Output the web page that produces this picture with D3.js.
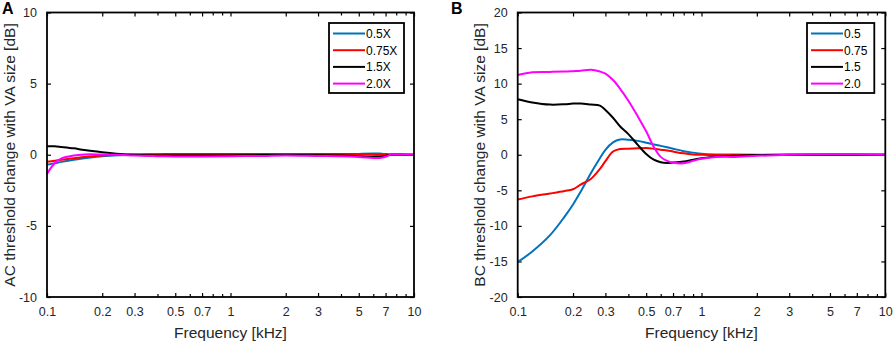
<!DOCTYPE html>
<html>
<head>
<meta charset="utf-8">
<script src="https://cdn.jsdelivr.net/npm/d3@7"></script>
<style>
  body { margin: 0; background: #fff; }
  text { font-family: Arial, "Liberation Sans", sans-serif; }
</style>
</head>
<body>
<script>
// frequency grids (kHz)
var freqA = [0.1, 0.11, 0.12, 0.14, 0.16, 0.2, 0.25, 0.3, 0.4, 0.5, 0.7, 1, 1.5, 2, 3, 4, 5, 6, 6.5, 7, 7.5, 8, 10];
var freqB = [0.1, 0.12, 0.15, 0.18, 0.2, 0.22, 0.25, 0.28, 0.3, 0.33, 0.36, 0.4, 0.45, 0.5, 0.55, 0.6, 0.65, 0.7, 0.8, 0.9, 1, 1.2, 1.5, 2, 3, 5, 7, 10];

// panel A: AC threshold change
var acHalf   = [-0.7, -0.6, -0.5, -0.35, -0.25, -0.1, -0.03, 0, 0.02, 0.03, 0.03, 0.03, 0.03, 0.03, 0.05, 0.05, 0.06, 0.08, 0.08, 0.05, 0.02, 0.01, 0];
var acThreeQ = [-0.5, -0.42, -0.35, -0.25, -0.15, -0.05, 0, 0.02, 0.04, 0.05, 0.05, 0.05, 0.05, 0.05, 0.05, 0.05, 0.04, 0.03, 0.02, 0.02, 0.01, 0.01, 0];
var acOneHalf = [0.6, 0.6, 0.55, 0.45, 0.33, 0.18, 0.06, 0, -0.05, -0.06, -0.05, -0.05, -0.02, -0.02, -0.03, -0.05, -0.1, -0.12, -0.12, -0.08, 0, 0.02, 0];
var acDouble = [-1.35, -0.6, -0.25, -0.05, 0.02, 0.02, 0, -0.06, -0.1, -0.12, -0.12, -0.1, -0.08, -0.05, -0.08, -0.1, -0.15, -0.22, -0.22, -0.14, 0.02, 0.03, 0];

// panel B: BC threshold change
var bcHalf   = [-15.1, -13.6, -11.3, -8.7, -7.0, -5.2, -2.6, -0.5, 0.7, 1.75, 2.15, 2.1, 1.95, 1.7, 1.45, 1.25, 1.05, 0.85, 0.5, 0.3, 0.15, 0.05, 0.02, 0, 0, 0, 0, 0];
var bcThreeQ = [-6.3, -5.85, -5.45, -5.1, -4.85, -4.2, -3.4, -2.0, -0.9, 0.45, 0.8, 0.85, 0.9, 0.95, 0.85, 0.7, 0.6, 0.45, 0.2, 0.05, 0, -0.05, -0.05, -0.05, 0, 0, 0, 0];
var bcOneHalf = [7.8, 7.35, 7.05, 7.1, 7.2, 7.2, 7.05, 6.9, 6.3, 5.2, 4.0, 2.9, 1.4, 0.1, -0.7, -1.05, -1.15, -1.1, -0.95, -0.7, -0.5, -0.25, -0.15, -0.05, 0, 0, 0, 0];
var bcDouble = [11.2, 11.6, 11.65, 11.7, 11.75, 11.8, 11.95, 11.7, 11.4, 10.5, 9.3, 7.6, 5.4, 3.3, 1.1, -0.3, -0.85, -1.1, -1.2, -0.85, -0.55, -0.3, -0.3, -0.15, 0, 0.1, 0.1, 0];

var namesA = ["0.5X", "0.75X", "1.5X", "2.0X"];
var namesB = ["0.5", "0.75", "1.5", "2.0"];
var colors = ["#0072BD", "#FF0000", "#000000", "#FF00FF"];

var xTickVals = [0.1, 0.2, 0.3, 0.5, 0.7, 1, 2, 3, 5, 7, 10];
var xMinorVals = [0.4, 0.6, 0.8, 0.9, 4, 6, 8, 9];

var W = 894, H = 344;
var svg = d3.select("body").append("svg").attr("width", W).attr("height", H);

function panel(opt) {
    var x = d3.scaleLog().domain([0.1, 10]).range([opt.left, opt.right]);
    var y = d3.scaleLinear().domain(opt.yDomain).range([297, 12.5]);
    var g = svg.append("g");
    var fmt = function(d) { return String(d); };

    // ticks, drawn inward on all four sides (matlab style)
    var tk = 4;
    var xb = d3.axisBottom(x).tickValues(xTickVals).tickSizeInner(-tk).tickSizeOuter(0).tickFormat(fmt).tickPadding(10);
    var xt = d3.axisTop(x).tickValues(xTickVals).tickSizeInner(-tk).tickSizeOuter(0).tickFormat("");
    var xbm = d3.axisBottom(x).tickValues(xMinorVals).tickSizeInner(-3).tickSizeOuter(0).tickFormat("");
    var xtm = d3.axisTop(x).tickValues(xMinorVals).tickSizeInner(-3).tickSizeOuter(0).tickFormat("");
    var yl = d3.axisLeft(y).tickValues(opt.yTicks).tickSizeInner(-tk).tickSizeOuter(0).tickFormat(fmt).tickPadding(10);
    var yr = d3.axisRight(y).tickValues(opt.yTicks).tickSizeInner(-tk).tickSizeOuter(0).tickFormat("");

    [[xb, "translate(0,297)"], [xbm, "translate(0,297)"], [xt, "translate(0,12.5)"], [xtm, "translate(0,12.5)"],
     [yl, "translate(" + opt.left + ",0)"], [yr, "translate(" + opt.right + ",0)"]].forEach(function(a) {
        var ax = g.append("g").attr("transform", a[1]).call(a[0]);
        ax.select(".domain").remove();
        ax.selectAll("line").attr("stroke", "#000").attr("stroke-width", 1.2);
        ax.selectAll("text").attr("font-size", "12.5px").attr("fill", "#262626")
          .attr("font-family", "Arial, 'Liberation Sans', sans-serif");
    });

    // series lines
    var line = d3.line()
        .x(function(d) { return x(d[0]); })
        .y(function(d) { return y(d[1]); })
        .curve(d3.curveCatmullRom.alpha(0.5));
    opt.series.forEach(function(s, i) {
        g.append("path")
            .datum(opt.freq.map(function(f, j) { return [f, s[j]]; }))
            .attr("fill", "none")
            .attr("stroke", colors[i])
            .attr("stroke-width", 2)
            .attr("d", line);
    });

    // box
    g.append("rect")
        .attr("x", opt.left).attr("y", 12.5)
        .attr("width", opt.right - opt.left).attr("height", 297 - 12.5)
        .attr("fill", "none").attr("stroke", "#000").attr("stroke-width", 1.8);

    // legend
    var lg = g.append("g");
    lg.append("rect")
        .attr("x", opt.legX).attr("y", 23)
        .attr("width", opt.legW).attr("height", 70)
        .attr("fill", "#fff").attr("stroke", "#000").attr("stroke-width", 1.8);
    opt.names.forEach(function(n, i) {
        var yy = 33.5 + i * 16.7;
        lg.append("line")
            .attr("x1", opt.legX + 4).attr("x2", opt.legX + 36)
            .attr("y1", yy).attr("y2", yy)
            .attr("stroke", colors[i]).attr("stroke-width", 2);
        lg.append("text")
            .attr("x", opt.legX + 37).attr("y", yy + 4.3)
            .attr("font-size", "12px").attr("fill", "#000")
            .text(n);
    });

    // axis titles
    g.append("text")
        .attr("x", (opt.left + opt.right) / 2).attr("y", 338)
        .attr("text-anchor", "middle").attr("font-size", "15.5px").attr("fill", "#262626")
        .text("Frequency [kHz]");
    g.append("text")
        .attr("transform", "translate(" + opt.ylabX + ",155) rotate(-90)")
        .attr("text-anchor", "middle").attr("font-size", "15.5px").attr("fill", "#262626")
        .text(opt.ylabel);

    // panel letter
    g.append("text")
        .attr("x", opt.letterX).attr("y", 13.5)
        .attr("font-size", "16px").attr("font-weight", "bold").attr("fill", "#000")
        .text(opt.letter);
}

panel({
    left: 47, right: 414, yDomain: [-10, 10], yTicks: [-10, -5, 0, 5, 10],
    freq: freqA, series: [acHalf, acThreeQ, acOneHalf, acDouble], names: namesA,
    legX: 329, legW: 75, ylabX: 15, ylabel: "AC threshold change with VA size [dB]",
    letter: "A", letterX: 2
});

panel({
    left: 517.7, right: 885.3, yDomain: [-20, 20], yTicks: [-20, -15, -10, -5, 0, 5, 10, 15, 20],
    freq: freqB, series: [bcHalf, bcThreeQ, bcOneHalf, bcDouble], names: namesB,
    legX: 807, legW: 67.3, ylabX: 484.5, ylabel: "BC threshold change with VA size [dB]",
    letter: "B", letterX: 451
});
</script>
</body>
</html>
